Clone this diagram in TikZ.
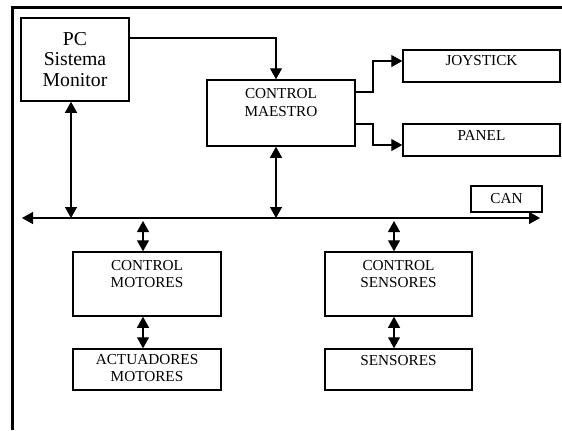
\documentclass[tikz,border=0pt]{standalone}
\usepackage{fontspec}
\setmainfont{Liberation Serif}
\usetikzlibrary{arrows.meta}
\begin{document}
\begin{tikzpicture}[x=1bp,y=-1bp,
  box/.style={draw,line width=1.5bp,rectangle,inner sep=0pt,anchor=center},
  lbl/.style={font=\fontsize{15.3}{18}\selectfont,align=center,inner sep=0pt,anchor=center},
  conn/.style={line width=1.3bp},
  tip/.style={-{Triangle[length=11bp,width=12bp]}},
  both/.style={{Triangle[length=11bp,width=12bp]}-{Triangle[length=11bp,width=12bp]}}]
\useasboundingbox (0,0) rectangle (562,430);
% frame
\draw[line width=3bp] (562,7) -- (12,7) -- (12,430);
% boxes
\node[box,minimum width=108bp,minimum height=83bp,align=center,
  font=\fontsize{19.8}{21}\selectfont] (pc) at (75,59.5) {PC\\Sistema\\Monitor};
\node[box,minimum width=148bp,minimum height=66bp] (ms) at (281,113) {};
\node[lbl] (mst) at (281,102.5) {CONTROL\\MAESTRO};
\node[box,minimum width=157bp,minimum height=32bp] (joy) at (481.5,66) {};
\node[lbl] (joyt) at (481.5,61) {JOYSTICK};
\node[box,minimum width=157bp,minimum height=32bp] (pan) at (481.5,140) {};
\node[lbl] (pant) at (481.5,135) {PANEL};
\node[box,minimum width=71bp,minimum height=26bp] (can) at (506.5,199) {};
\node[lbl] (cant) at (506.5,199) {CAN};
\node[box,minimum width=148bp,minimum height=64bp] (cm) at (147,284) {};
\node[lbl] (cmt) at (147,274) {CONTROL\\MOTORES};
\node[box,minimum width=148bp,minimum height=41bp] (am) at (147,369.5) {};
\node[lbl] (amt) at (147,368) {ACTUADORES\\MOTORES};
\node[box,minimum width=147bp,minimum height=64bp] (cs) at (398.5,284) {};
\node[lbl] (cst) at (398.5,274) {CONTROL\\SENSORES};
\node[box,minimum width=147bp,minimum height=41bp] (se) at (398.5,369.5) {};
\node[lbl] (set) at (398.5,361) {SENSORES};
% bus
\coordinate (busL) at (22,218);
\coordinate (busR) at (540,218);
\draw[conn,both] (busL) -- (busR);
\coordinate (b1) at (71,218);
\coordinate (b2) at (276,218);
\coordinate (b3) at (143,221);
\coordinate (b4) at (394,221);
% connectors
\draw[conn,both] (pc.south -| b1) -- (b1);
\draw[conn,both] (ms.south -| b2) -- (b2);
\draw[conn,tip] (pc.east |- 0,38) -| (ms.north -| b2);
\draw[conn,both] (b3) -- (cm.north -| b3);
\draw[conn,both] (b4) -- (cs.north -| b4);
\draw[conn,both] (cm.south -| b3) -- (am.north -| b3);
\draw[conn,both] (cs.south -| b4) -- (se.north -| b4);
\draw[conn,tip] (ms.east |- 0,92) -- (373,92) |- (joy.west |- 0,61);
\draw[conn,tip] (ms.east |- 0,124) -- (373,124) |- (pan.west |- 0,145);
\end{tikzpicture}
\end{document}
